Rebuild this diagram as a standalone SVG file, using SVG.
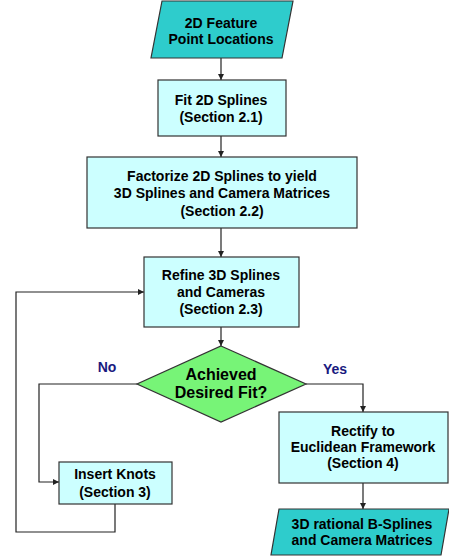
<svg xmlns="http://www.w3.org/2000/svg" width="449" height="556" viewBox="0 0 449 556">
<style>
text{font-family:"Liberation Sans",Arial,sans-serif;font-weight:bold;font-size:14px;text-anchor:middle;fill:#000}
.big{font-size:16px}
.box{fill:#CCFFFF;stroke:#333;stroke-width:1.2}
.io{fill:#2ECCCC;stroke:#333;stroke-width:1.2}
.dec{fill:#77F477;stroke:#333;stroke-width:1.2}
.c{fill:none;stroke:#222;stroke-width:1.2}
.lbl{fill:#1a1a80}
</style>
<defs>
<marker id="ah" viewBox="0 0 8 8" refX="8" refY="4" markerWidth="6" markerHeight="6" orient="auto" markerUnits="userSpaceOnUse">
<path d="M0,0 L8,4 L0,8 z" fill="#222"/>
</marker>
</defs>
<rect width="449" height="556" fill="#fff"/>
<g id="connectors">
<line class="c" x1="221" y1="58" x2="221" y2="80" marker-end="url(#ah)"/>
<line class="c" x1="221" y1="136" x2="221" y2="157" marker-end="url(#ah)"/>
<line class="c" x1="221" y1="228" x2="221" y2="257" marker-end="url(#ah)"/>
<line class="c" x1="221" y1="327" x2="221" y2="346" marker-end="url(#ah)"/>
<polyline class="c" points="137,384 39,384 39,482 59,482" marker-end="url(#ah)"/>
<polyline class="c" points="306,384 363,384 363,412" marker-end="url(#ah)"/>
<polyline class="c" points="115,504 115,532 16,532 16,292 144,292" marker-end="url(#ah)"/>
<line class="c" x1="363" y1="483" x2="363" y2="509" marker-end="url(#ah)"/>
<text class="lbl" x="107" y="372">No</text>
<text class="lbl" x="335" y="374">Yes</text>
</g>
<g id="input">
<polygon class="io" points="162,1 293,1 282,58 151,58"/>
<text x="221" y="28">2D Feature</text>
<text x="221" y="44">Point Locations</text>
</g>
<g id="fit2d">
<rect class="box" x="158" y="80" width="128" height="56"/>
<text x="221" y="105">Fit 2D Splines</text>
<text x="221" y="122">(Section 2.1)</text>
</g>
<g id="factorize">
<rect class="box" x="87" y="157" width="270" height="71"/>
<text x="222" y="181">Factorize 2D Splines to yield</text>
<text x="222" y="198">3D Splines and Camera Matrices</text>
<text x="222" y="216">(Section 2.2)</text>
</g>
<g id="refine">
<rect class="box" x="144" y="257" width="155" height="70"/>
<text x="221" y="280">Refine 3D Splines</text>
<text x="221" y="297">and Cameras</text>
<text x="221" y="314">(Section 2.3)</text>
</g>
<g id="decision">
<polygon class="dec" points="221,346 306,384 221,422 137,384"/>
<text class="big" x="221" y="380">Achieved</text>
<text class="big" x="221" y="398">Desired Fit?</text>
</g>
<g id="insert">
<rect class="box" x="59" y="462" width="113" height="42"/>
<text x="115" y="479">Insert Knots</text>
<text x="115" y="497">(Section 3)</text>
</g>
<g id="rectify">
<rect class="box" x="279" y="412" width="169" height="71"/>
<text x="363" y="436">Rectify to</text>
<text x="363" y="452">Euclidean Framework</text>
<text x="363" y="468">(Section 4)</text>
</g>
<g id="output">
<polygon class="io" points="279,509 449,509 441,555 271,555"/>
<text x="362" y="529">3D rational B-Splines</text>
<text x="362" y="545">and Camera Matrices</text>
</g>
</svg>
